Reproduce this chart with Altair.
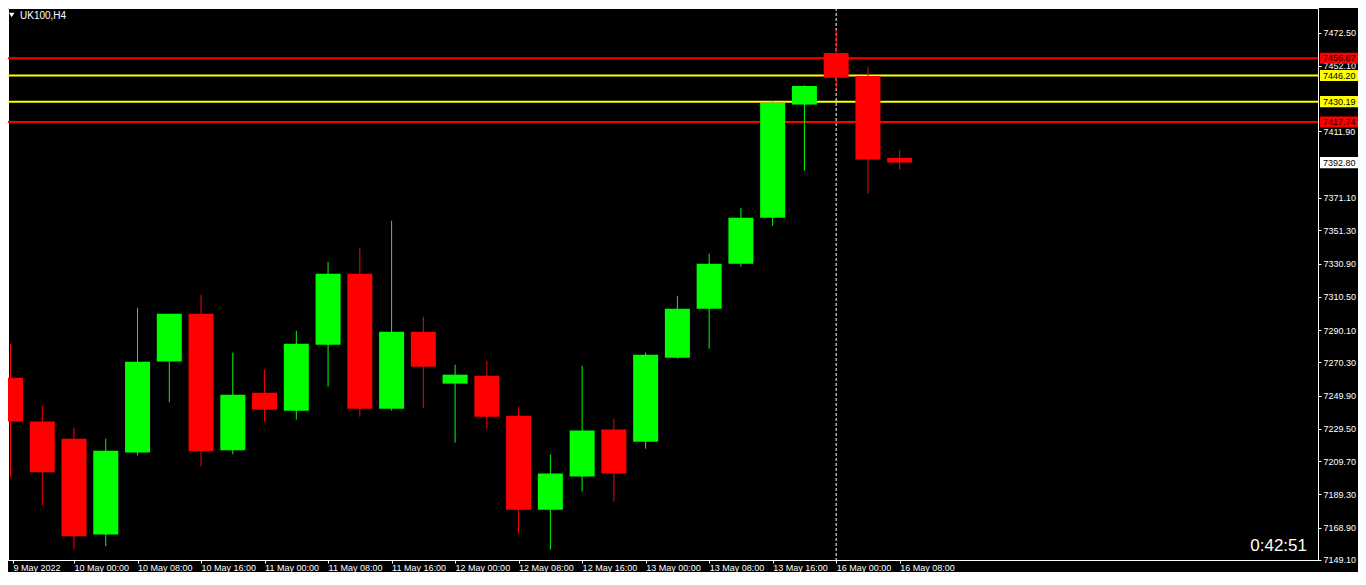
import altair as alt
import pandas as pd

# ---------------- data ----------------
symbol_label = "UK100,H4"
timer_label = "0:42:51"

times = ["9 May 16:00", "9 May 20:00", "10 May 00:00", "10 May 04:00", "10 May 08:00",
         "10 May 12:00", "10 May 16:00", "10 May 20:00", "11 May 00:00", "11 May 04:00",
         "11 May 08:00", "11 May 12:00", "11 May 16:00", "11 May 20:00", "12 May 00:00",
         "12 May 04:00", "12 May 08:00", "12 May 12:00", "12 May 16:00", "12 May 20:00",
         "13 May 00:00", "13 May 04:00", "13 May 08:00", "13 May 12:00", "13 May 16:00",
         "13 May 20:00", "16 May 00:00", "16 May 04:00", "16 May 08:00"]
opens = [7260.8, 7233.9, 7223.4, 7164.6, 7215.0, 7270.8, 7300.1, 7216.3, 7251.6, 7240.6,
         7281.1, 7324.6, 7241.8, 7289.0, 7257.2, 7262.1, 7237.5, 7179.9, 7200.2, 7229.0,
         7221.6, 7273.1, 7303.1, 7330.7, 7358.9, 7428.4, 7460.0, 7446.0, 7395.7]
highs = [7281.7, 7243.7, 7230.2, 7223.4, 7303.7, 7300.1, 7311.7, 7276.2, 7265.7, 7289.6,
         7331.9, 7340.5, 7357.1, 7298.2, 7268.8, 7271.3, 7243.1, 7213.7, 7268.2, 7235.7,
         7276.2, 7311.1, 7336.9, 7365.1, 7430.6, 7440.2, 7474.2, 7451.5, 7400.6]
lows = [7199.7, 7182.6, 7155.6, 7157.4, 7213.2, 7245.7, 7206.5, 7213.8, 7233.9, 7235.1,
        7255.3, 7236.9, 7240.6, 7242.4, 7221.0, 7229.6, 7165.2, 7155.4, 7191.0, 7184.8,
        7217.3, 7272.5, 7278.6, 7328.9, 7354.0, 7387.7, 7438.0, 7373.8, 7388.5]
closes = [7233.9, 7202.8, 7163.6, 7216.1, 7270.6, 7300.1, 7215.7, 7250.4, 7241.2, 7281.7,
          7324.6, 7241.8, 7289.0, 7267.6, 7262.7, 7236.9, 7179.9, 7202.0, 7228.4, 7202.0,
          7274.9, 7303.1, 7330.7, 7358.9, 7429.4, 7439.8, 7444.9, 7394.7, 7392.8]

first_label = "9 May 2022"
axis_tick_slots = [2, 4, 6, 8, 10, 12, 14, 16, 18, 20, 22, 24, 26, 28]
axis_tick_labels = ["10 May 00:00", "10 May 08:00", "10 May 16:00", "11 May 00:00",
                    "11 May 08:00", "11 May 16:00", "12 May 00:00", "12 May 08:00",
                    "12 May 16:00", "13 May 00:00", "13 May 08:00", "13 May 16:00",
                    "16 May 00:00", "16 May 08:00"]

price_ticks = [7472.50, 7452.10, 7411.90, 7371.10, 7351.30, 7330.90, 7310.50, 7290.10,
               7270.30, 7249.90, 7229.50, 7209.70, 7189.30, 7168.90, 7149.10]

level_prices = [7456.87, 7446.20, 7430.19, 7417.74]
level_colors = ["#ff0000", "#ffff00", "#ffff00", "#ff0000"]
current_price = 7392.80
separator_slot = 26

# ---------------- tables ----------------
candles = pd.DataFrame({
    "slot": list(range(len(times))),
    "time": times,
    "open": opens, "high": highs, "low": lows, "close": closes,
})
candles["dir"] = ["up" if c >= o else "down" for o, c in zip(opens, closes)]

tags = pd.DataFrame({
    "price": level_prices + [current_price],
    "bg": level_colors + ["#ffffff"],
})
levels = pd.DataFrame({"price": level_prices, "col": level_colors})
sep = pd.DataFrame({"slot": [separator_slot]})

# ---------------- scales / axes ----------------
x_min = 0.078125
x_max = 41.015625
xscale = alt.Scale(domain=[x_min, x_max], nice=False, zero=False)
yscale = alt.Scale(domain=[7149.0, 7487.65], nice=False, zero=False)

label_expr = "".join(
    f"datum.value == {v} ? '{lab}' : " for v, lab in zip(axis_tick_slots, axis_tick_labels)
) + f"'{first_label}'"

xaxis = alt.Axis(
    orient="bottom", values=[x_min] + axis_tick_slots, labelExpr=label_expr,
    title=None, grid=False, domainColor="#ffffff", tickColor="#ffffff", tickSize=3,
    labelColor="#ffffff", labelFont="Liberation Sans", labelFontSize=9,
    labelAlign="left", labelBaseline="top", labelPadding=0, labelOverlap=False,
    labelFlush=False,
)
yaxis = alt.Axis(
    orient="right", values=price_ticks, format=".2f", title=None, grid=False,
    domainColor="#ffffff", tickColor="#ffffff", tickSize=3, labelColor="#ffffff",
    labelFont="Liberation Sans", labelFontSize=9, labelPadding=2, labelOverlap=False,
    labelAlign="left", labelBaseline="middle",
)

X = lambda f: alt.X(f, scale=xscale, axis=xaxis)
Y = lambda f: alt.Y(f, scale=yscale, axis=yaxis)

# ---------------- layers ----------------
level_rules = alt.Chart(levels).mark_rule(strokeWidth=2).encode(
    y=Y("price:Q"), color=alt.Color("col:N", scale=None)
)

separator = alt.Chart(sep).mark_rule(color="#ffffff", strokeWidth=1, strokeDash=[3, 2]).encode(
    x=X("slot:Q")
)

dir_color = alt.Color("dir:N", scale=alt.Scale(domain=["up", "down"], range=["#00ff00", "#ff0000"]),
                      legend=None)

wicks = alt.Chart(candles).mark_rule(strokeWidth=1, clip=True).encode(
    x=X("slot:Q"), y=Y("low:Q"), y2="high:Q", color=dir_color
)
bodies = alt.Chart(candles).mark_bar(size=25, clip=True).encode(
    x=X("slot:Q"), y=Y("open:Q"), y2="close:Q", color=dir_color
)

tag_boxes = alt.Chart(tags).transform_calculate(
    top="datum.price + 3.4", bot="datum.price - 3.4"
).mark_rect().encode(
    x=alt.value(1312), x2=alt.value(1350), y=Y("top:Q"), y2="bot:Q",
    color=alt.Color("bg:N", scale=None)
)
tag_text = alt.Chart(tags).mark_text(
    align="left", baseline="middle", font="Liberation Sans", fontSize=9, color="#000000"
).encode(
    x=alt.value(1315), y=Y("price:Q"), text=alt.Text("price:Q", format=".2f")
)

title_df = pd.DataFrame({"t": [symbol_label]})
symbol_text = alt.Chart(title_df).mark_text(
    align="left", baseline="middle", font="Liberation Sans", fontSize=10, color="#ffffff"
).encode(x=alt.value(12), y=alt.value(8), text="t:N")
symbol_tri = alt.Chart(title_df).mark_point(
    shape="triangle-down", filled=True, size=30, color="#ffffff", opacity=1
).encode(x=alt.value(3.7), y=alt.value(7))

timer_df = pd.DataFrame({"t": [timer_label]})
timer_text = alt.Chart(timer_df).mark_text(
    align="right", baseline="alphabetic", font="Liberation Sans", fontSize=17, color="#ffffff"
).encode(x=alt.value(1299), y=alt.value(543), text="t:N")

chart = alt.layer(
    level_rules, separator, wicks, bodies, tag_boxes, tag_text, symbol_text, symbol_tri, timer_text
).properties(
    width=1310, height=552,
    autosize=alt.AutoSizeParams(type="none"),
    padding={"left": 0, "top": 0, "right": 40, "bottom": 12},
).configure(
    background="#000000"
).configure_view(
    stroke="#ffffff", strokeWidth=1
)

chart.save("out.html", embed_options={"renderer": "svg", "actions": False})
